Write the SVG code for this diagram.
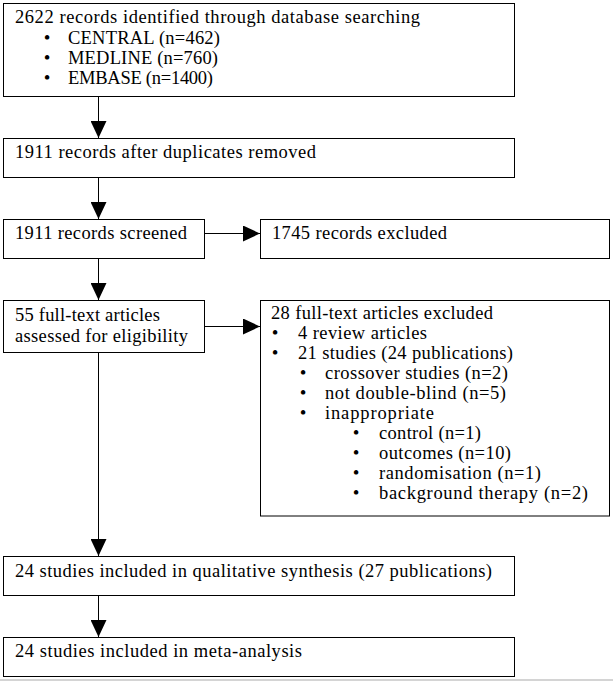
<svg xmlns="http://www.w3.org/2000/svg" width="613" height="681" viewBox="0 0 613 681">
<style>
.box{fill:#fff;stroke:#000;stroke-width:1}
text{font-family:"Liberation Serif","Times New Roman",serif;font-size:18.5px;fill:#000}
.b{text-anchor:middle;font-size:19px}
.conn{stroke:#000;stroke-width:1;fill:none}
</style>
<defs>
<marker id="arrow" markerUnits="userSpaceOnUse" viewBox="0 0 17 16" refX="17" refY="8" markerWidth="17" markerHeight="16" orient="auto">
<path d="M0,0 L17,8 L0,16 Z" fill="#000"/>
</marker>
</defs>
<rect x="0" y="0" width="613" height="681" fill="#fff"/>
<rect x="0" y="679" width="613" height="2" fill="#d4d4d4"/>

<g id="connectors">
<line class="conn" x1="98.5" y1="97" x2="98.5" y2="138" marker-end="url(#arrow)"/>
<line class="conn" x1="98.5" y1="178" x2="98.5" y2="219" marker-end="url(#arrow)"/>
<line class="conn" x1="205" y1="233.5" x2="260" y2="233.5" marker-end="url(#arrow)"/>
<line class="conn" x1="98.5" y1="259" x2="98.5" y2="300" marker-end="url(#arrow)"/>
<line class="conn" x1="205" y1="326.5" x2="260" y2="326.5" marker-end="url(#arrow)"/>
<line class="conn" x1="98.5" y1="353" x2="98.5" y2="556" marker-end="url(#arrow)"/>
<line class="conn" x1="98.5" y1="596" x2="98.5" y2="637" marker-end="url(#arrow)"/>
</g>

<g id="identified">
<rect class="box" x="3.5" y="3.5" width="511" height="93"/>
<text x="15" y="23" textLength="405" lengthAdjust="spacing">2622 records identified through database searching</text>
<text class="b" x="47" y="44">•</text>
<text x="68" y="44" textLength="152" lengthAdjust="spacing">CENTRAL (n=462)</text>
<text class="b" x="47" y="64">•</text>
<text x="68" y="64" textLength="150" lengthAdjust="spacing">MEDLINE (n=760)</text>
<text class="b" x="47" y="84">•</text>
<text x="68" y="84" textLength="145" lengthAdjust="spacing">EMBASE (n=1400)</text>
</g>

<g id="deduplicated">
<rect class="box" x="3.5" y="138.5" width="511" height="39"/>
<text x="15" y="158" textLength="301" lengthAdjust="spacing">1911 records after duplicates removed</text>
</g>

<g id="screened">
<rect class="box" x="3.5" y="219.5" width="201" height="39"/>
<text x="15" y="239" textLength="172" lengthAdjust="spacing">1911 records screened</text>
</g>

<g id="excluded-records">
<rect class="box" x="260.5" y="219.5" width="349" height="39"/>
<text x="272" y="239" textLength="175" lengthAdjust="spacing">1745 records excluded</text>
</g>

<g id="eligibility">
<rect class="box" x="3.5" y="300.5" width="201" height="52"/>
<text x="15" y="321" textLength="145" lengthAdjust="spacing">55 full-text articles</text>
<text x="15" y="342" textLength="173" lengthAdjust="spacing">assessed for eligibility</text>
</g>

<g id="excluded-articles">
<rect class="box" x="260.5" y="300.5" width="349" height="215.5"/>
<text x="271" y="319" textLength="222" lengthAdjust="spacing">28 full-text articles excluded</text>
<text class="b" x="275" y="339">•</text>
<text x="298" y="339" textLength="129" lengthAdjust="spacing">4 review articles</text>
<text class="b" x="275" y="359">•</text>
<text x="298" y="359" textLength="215" lengthAdjust="spacing">21 studies (24 publications)</text>
<text class="b" x="303" y="379">•</text>
<text x="325" y="379" textLength="183" lengthAdjust="spacing">crossover studies (n=2)</text>
<text class="b" x="303" y="399">•</text>
<text x="325" y="399" textLength="181" lengthAdjust="spacing">not double-blind (n=5)</text>
<text class="b" x="303" y="419">•</text>
<text x="325" y="419" textLength="109" lengthAdjust="spacing">inappropriate</text>
<text class="b" x="356" y="439">•</text>
<text x="379" y="439" textLength="102" lengthAdjust="spacing">control (n=1)</text>
<text class="b" x="356" y="459">•</text>
<text x="379" y="459" textLength="132" lengthAdjust="spacing">outcomes (n=10)</text>
<text class="b" x="356" y="479">•</text>
<text x="379" y="479" textLength="162" lengthAdjust="spacing">randomisation (n=1)</text>
<text class="b" x="356" y="499">•</text>
<text x="379" y="499" textLength="209" lengthAdjust="spacing">background therapy (n=2)</text>
</g>

<g id="qualitative">
<rect class="box" x="3.5" y="556.5" width="511" height="39"/>
<text x="15" y="577" textLength="477" lengthAdjust="spacing">24 studies included in qualitative synthesis (27 publications)</text>
</g>

<g id="meta-analysis">
<rect class="box" x="3.5" y="637.5" width="511" height="39"/>
<text x="15" y="657" textLength="287" lengthAdjust="spacing">24 studies included in meta-analysis</text>
</g>
</svg>
